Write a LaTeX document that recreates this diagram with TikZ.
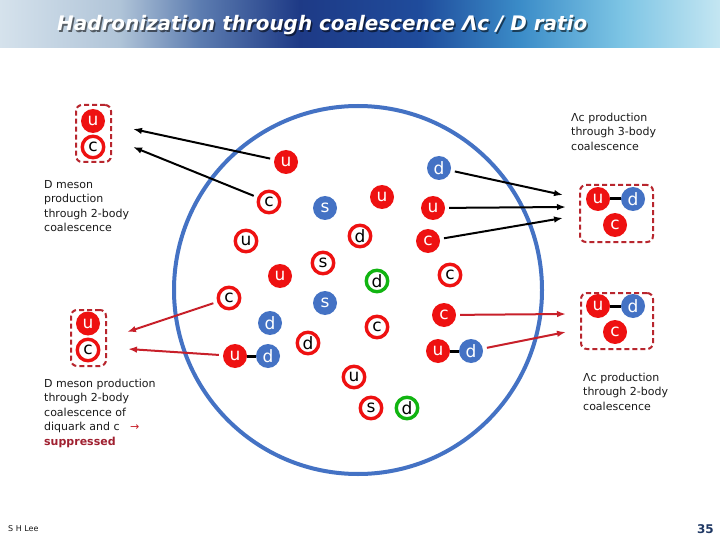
\documentclass[tikz,border=0pt]{standalone}
\usepackage{fontspec}
\setmainfont{DejaVu Sans}
\usetikzlibrary{arrows.meta}
\definecolor{qred}{HTML}{EE1111}
\definecolor{qblue}{HTML}{4472C4}
\definecolor{qgreen}{HTML}{11B411}
\definecolor{boxred}{HTML}{B8262E}
\definecolor{arrred}{HTML}{C8202A}
\definecolor{txt}{HTML}{1A1A1A}
\definecolor{supp}{HTML}{A02030}
\definecolor{pnum}{HTML}{1F3864}
\definecolor{b0}{HTML}{D5E2EC}
\definecolor{b1}{HTML}{B0C4D8}
\definecolor{b2}{HTML}{5C7CB0}
\definecolor{b3}{HTML}{1E3A86}
\definecolor{b4}{HTML}{1F4C9C}
\definecolor{b5}{HTML}{3B8CC8}
\definecolor{b6}{HTML}{7CC4E4}
\definecolor{b7}{HTML}{C4E6F2}
\pgfdeclarehorizontalshading{banner}{100bp}{color(0bp)=(b0); color(25bp)=(b0); color(33.3bp)=(b1); color(38.9bp)=(b2); color(45.8bp)=(b3); color(54.2bp)=(b4); color(61.1bp)=(b5); color(68.1bp)=(b6); color(75bp)=(b7); color(100bp)=(b7)}
\tikzset{
  qfont/.style={font=\fontsize{17}{17}\selectfont},
  qf/.style={circle, fill=qred, text=white, minimum size=24pt, inner sep=0pt, qfont},
  qb/.style={circle, fill=qblue, text=white, minimum size=24pt, inner sep=0pt, qfont},
  qr/.style={circle, draw=qred, line width=3.4pt, fill=white, text=black, minimum size=21.5pt, inner sep=0pt, qfont},
  qg/.style={circle, draw=qgreen, line width=3.4pt, fill=white, text=black, minimum size=21.5pt, inner sep=0pt, qfont},
  bond/.style={line width=3pt, black},
  dbox/.style={draw=boxred, line width=2pt, dash pattern=on 5pt off 3pt, rounded corners=6pt, inner sep=0pt},
  barr/.style={line width=2pt, black, -{Latex[length=9pt,width=6.5pt]}, shorten <=4pt},
  rarr/.style={line width=2pt, arrred, -{Latex[length=9pt,width=6.5pt]}, shorten <=4pt},
  lbl/.style={anchor=north west, align=left, inner sep=0pt, text=txt, font=\fontsize{11}{14.4}\selectfont},
}
\begin{document}
\begin{tikzpicture}[x=1pt,y=-1pt]
\useasboundingbox (0,0) rectangle (720,540);
\fill[white] (0,0) rectangle (720,540);
\shade[shading=banner] (0,0) rectangle (720,48);
% title
\node[anchor=base west, inner sep=0pt, text=black, opacity=0.55, font=\fontsize{20}{20}\selectfont\bfseries\itshape] (tshadow) at (58.5,32.5) {\resizebox{530pt}{\height}{Hadronization through coalescence Λc / D ratio}};
\node[anchor=base west, inner sep=0pt, text=white, font=\fontsize{20}{20}\selectfont\bfseries\itshape] (title) at (57,31) {\resizebox{530pt}{\height}{Hadronization through coalescence Λc / D ratio}};

% big circle
\draw[qblue, line width=4pt] (358,290) circle (184pt);

% arrow end points
\coordinate (tA) at (133,129);
\coordinate (tB) at (133,147);
\coordinate (tE) at (563,195);
\coordinate (tF) at (566,207);
\coordinate (tG) at (563,218);
\coordinate (tN) at (127,332);
\coordinate (tT) at (128,349);
\coordinate (tR) at (566,314);
\coordinate (tW) at (566,332);

% quarks inside
\node[qf] (qA) at (286,162) {u};
\node[qr] (qB) at (269,202) {c};
\node[qb] (qC) at (325,208) {s};
\node[qf] (qD) at (382,197) {u};
\node[qb] (qE) at (439,168) {d};
\node[qf] (qF) at (433,208) {u};
\node[qf] (qG) at (428,241) {c};
\node[qr] (qH) at (246,241) {u};
\node[qr] (qI) at (360,236) {d};
\node[qr] (qJ) at (323,263) {s};
\node[qf] (qK) at (280,276) {u};
\node[qg] (qL) at (377,281) {d};
\node[qr] (qM) at (450,275) {c};
\node[qr] (qN) at (229,298) {c};
\node[qb] (qO) at (325,303) {s};
\node[qb] (qP) at (270,323) {d};
\node[qr] (qQ) at (377,327) {c};
\node[qf] (qR) at (444,315) {c};
\node[qr] (qS) at (308,343) {d};
\node[qf] (qT) at (235,356) {u};
\node[qb] (qU) at (268,356) {d};
\node[qf] (qV) at (438,351) {u};
\node[qb] (qW) at (471,351) {d};
\node[qr] (qX) at (354,377) {u};
\node[qr] (qY) at (371,408) {s};
\node[qg] (qZ) at (407,408) {d};
\draw[bond] (qT) -- (qU);
\draw[bond] (qV) -- (qW);

% arrows
\draw[barr] (qA) -- (tA);
\draw[barr] (qB) -- (tB);
\draw[barr] (qE) -- (tE);
\draw[barr] (qF) -- (tF);
\draw[barr] (qG) -- (tG);
\draw[rarr] (qN) -- (tN);
\draw[rarr] (qT) -- (tT);
\draw[rarr] (qR) -- (tR);
\draw[rarr] (qW) -- (tW);

% boxes
\node[dbox, minimum width=35pt, minimum height=57pt] (boxTL) at (93.5,133.5) {};
\node[qf] (tlu) at (93,121) {u};
\node[qr] (tlc) at (93,147) {c};

\node[dbox, minimum width=35pt, minimum height=56pt] (boxBL) at (88.5,338) {};
\node[qf] (blu) at (88,323.5) {u};
\node[qr] (blc) at (88,350) {c};

\node[dbox, minimum width=73pt, minimum height=57pt] (boxTR) at (616.5,213.5) {};
\node[qf] (tru) at (598,199) {u};
\node[qb] (trd) at (633,199) {d};
\node[qf] (trc) at (615,225) {c};
\draw[bond] (tru) -- (trd);

\node[dbox, minimum width=72pt, minimum height=56pt] (boxBR) at (617,321) {};
\node[qf] (bru) at (598,306) {u};
\node[qb] (brd) at (633,306) {d};
\node[qf] (brc) at (615,332) {c};
\draw[bond] (bru) -- (brd);

% labels
\node[lbl] (lTL) at (44,180) {D meson\\production\\through 2-body\\coalescence};
\node[lbl] (lTR) at (571,113) {Λc production\\through 3-body\\coalescence};
\node[lbl] (lBR) at (583,373) {Λc production\\through 2-body\\coalescence};
\node[lbl] (lBL) at (44,379) {D meson production\\through 2-body\\coalescence of\\diquark and c \ \ {\color{arrred}→}\\{\bfseries\color{supp}suppressed}};

% footer
\node[anchor=base west, inner sep=0pt, text=txt, font=\fontsize{8}{8}\selectfont] (auth) at (8,531) {S H Lee};
\node[anchor=base east, inner sep=0pt, text=pnum, font=\fontsize{12}{12}\selectfont\bfseries] (pg) at (714,533) {35};
\end{tikzpicture}
\end{document}
